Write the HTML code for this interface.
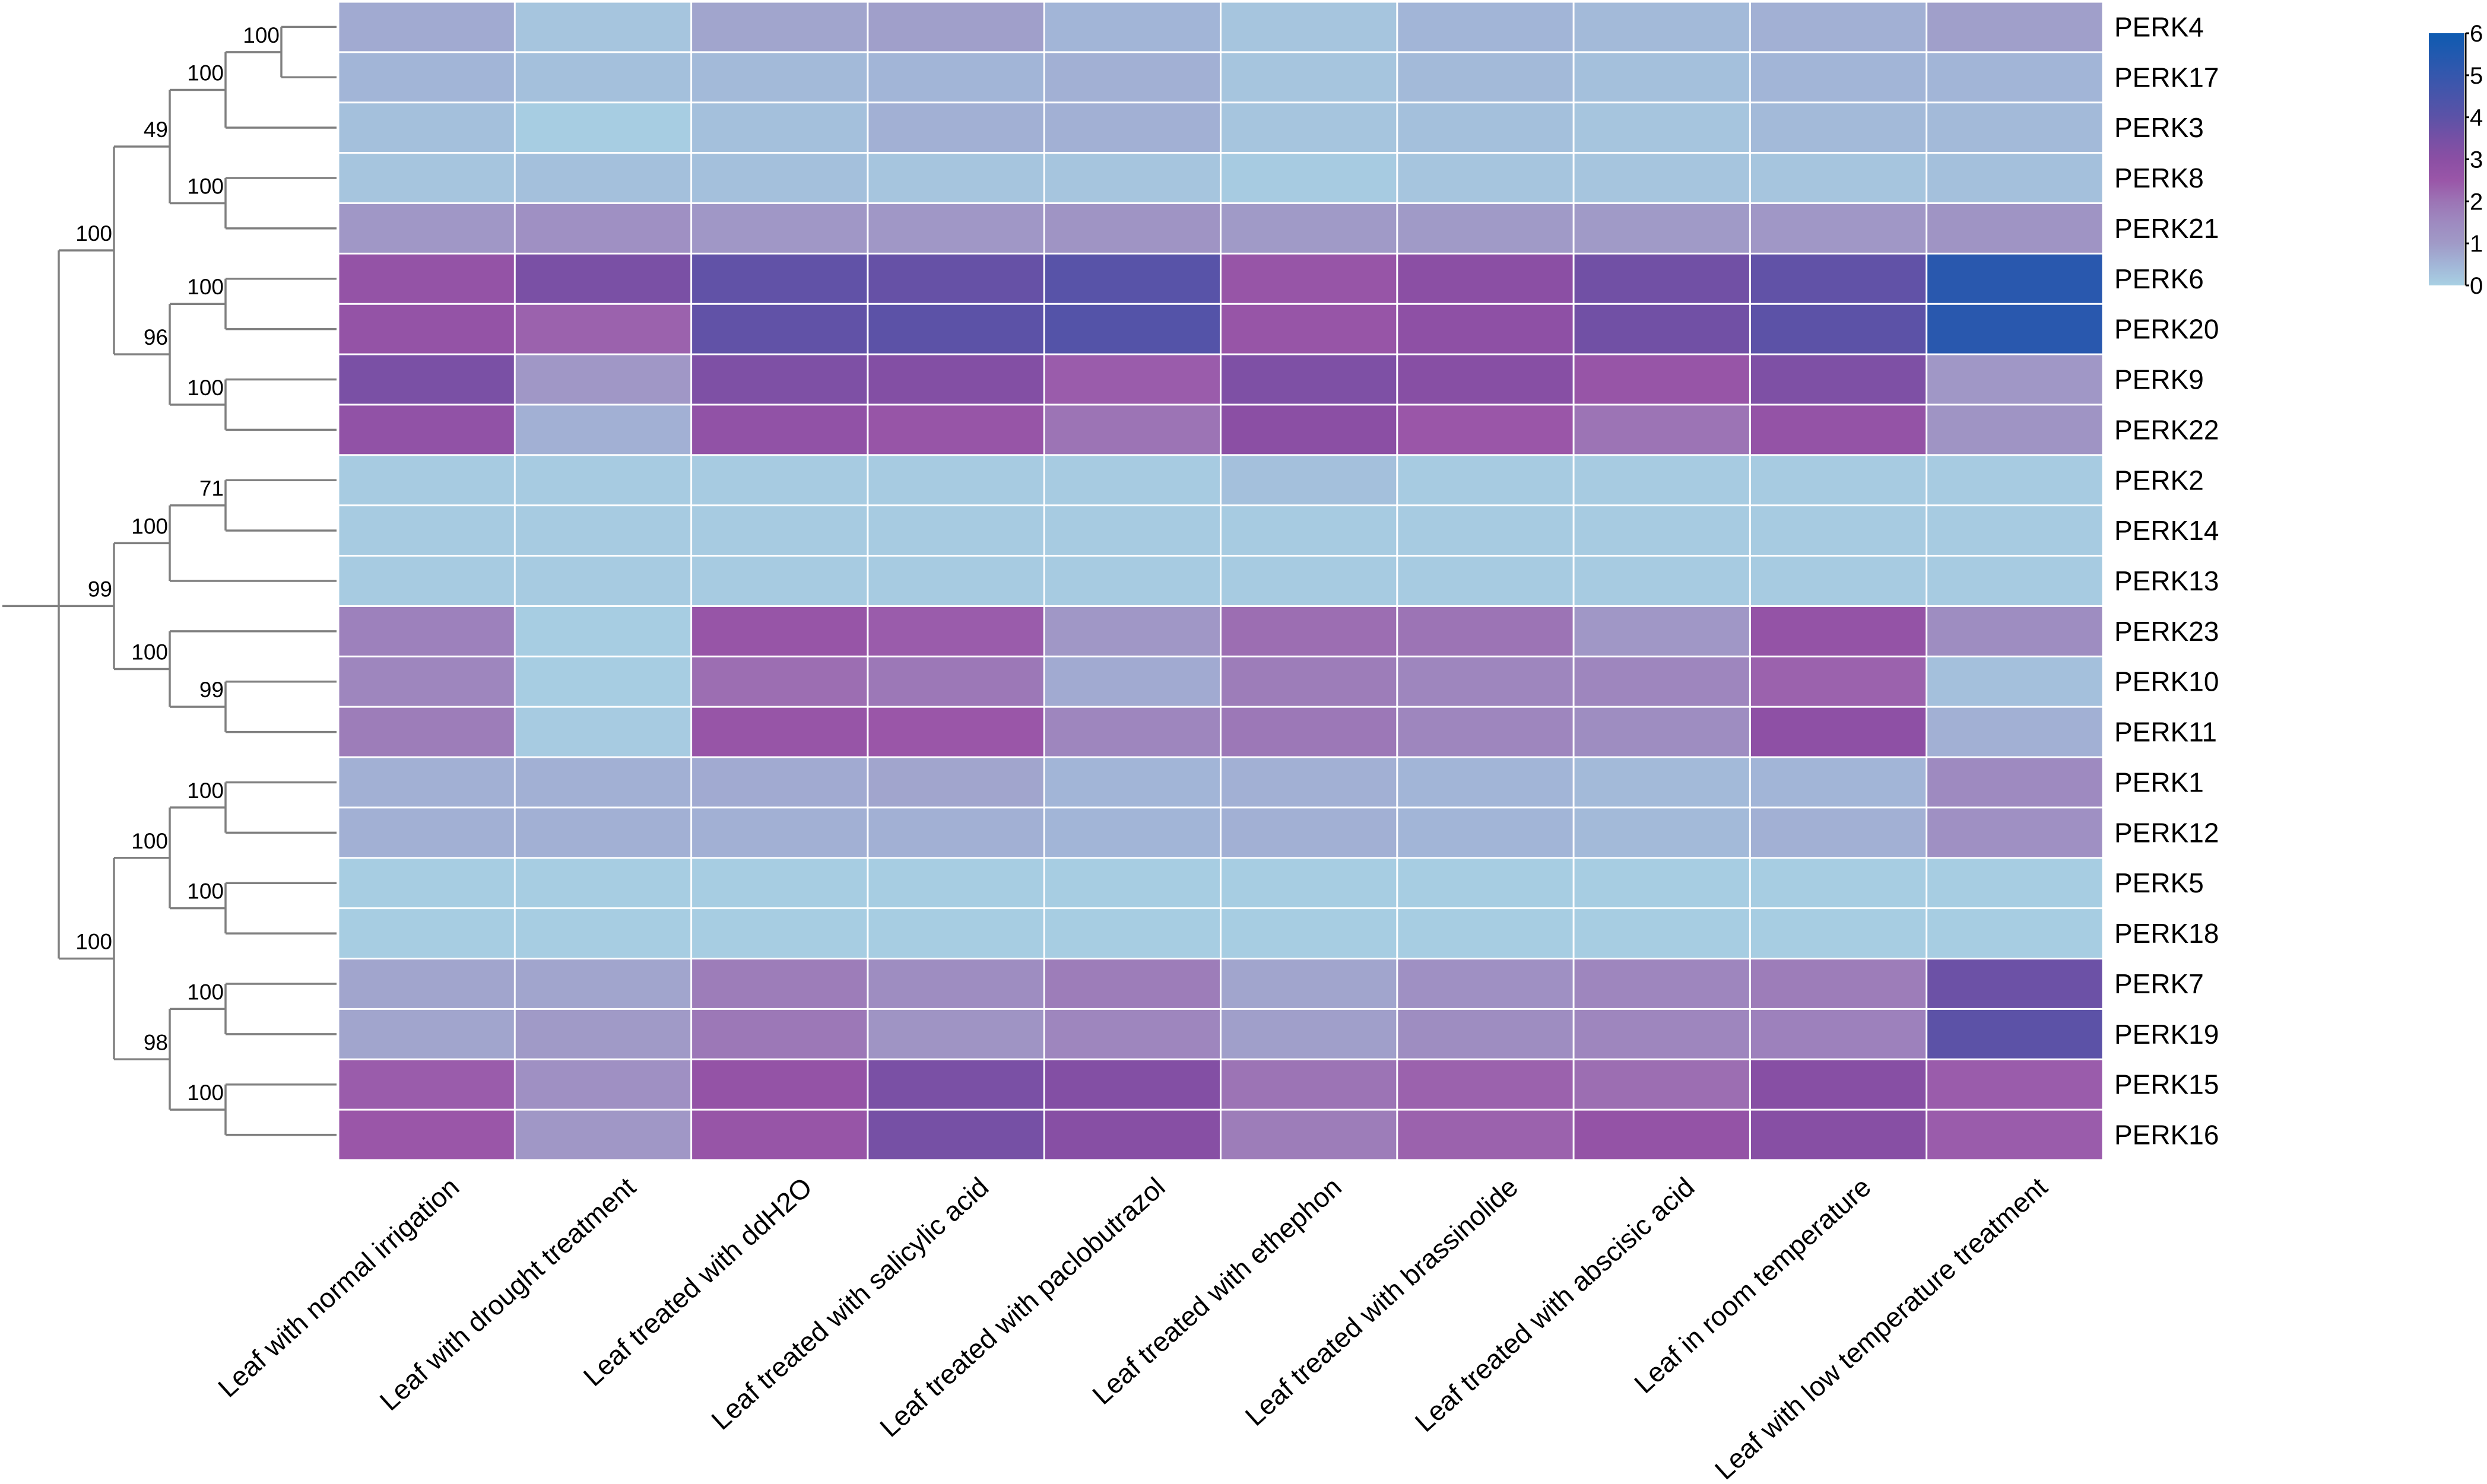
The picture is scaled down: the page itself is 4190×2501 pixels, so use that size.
<!DOCTYPE html>
<html><head><meta charset="utf-8"><style>
html,body{margin:0;padding:0;background:#fff;}
svg{display:block;font-family:"Liberation Sans",Arial,sans-serif;}
</style></head><body>
<svg id="chart" width="4190" height="2501" viewBox="0 0 4190 2501" xmlns="http://www.w3.org/2000/svg">
<g id="dendro"></g>
<g id="cells"></g>
<g id="rowlabels"></g>
<g id="collabels"></g>
<g id="legend"></g>
</svg>
<script>
const genes = ["PERK4","PERK17","PERK3","PERK8","PERK21","PERK6","PERK20","PERK9","PERK22","PERK2","PERK14","PERK13","PERK23","PERK10","PERK11","PERK1","PERK12","PERK5","PERK18","PERK7","PERK19","PERK15","PERK16"];
const conditions = ["Leaf with normal irrigation","Leaf with drought treatment","Leaf treated with ddH2O","Leaf treated with salicylic acid","Leaf treated with paclobutrazol","Leaf treated with ethephon","Leaf treated with brassinolide","Leaf treated with abscisic acid","Leaf in room temperature","Leaf with low temperature treatment"];
const values = [
[0.7,0.2,0.8,0.9,0.5,0.2,0.5,0.4,0.6,0.9],
[0.5,0.3,0.4,0.5,0.6,0.2,0.4,0.3,0.5,0.5],
[0.3,0.05,0.3,0.6,0.6,0.2,0.3,0.2,0.4,0.4],
[0.2,0.3,0.3,0.2,0.2,0.1,0.2,0.2,0.2,0.3],
[1.1,1.3,1.1,1.1,1.2,1.0,1.0,1.0,1.1,1.2],
[2.7,3.4,3.9,3.8,4.1,2.6,3.0,3.6,3.9,5.3],
[2.7,2.3,3.9,4.0,4.2,2.6,2.9,3.6,4.0,5.3],
[3.4,1.1,3.3,3.2,2.4,3.3,3.1,2.6,3.3,1.1],
[2.8,0.6,2.8,2.6,2.0,3.0,2.5,2.0,2.7,1.2],
[0.1,0.1,0.1,0.1,0.1,0.3,0.1,0.1,0.1,0.1],
[0.1,0.1,0.1,0.1,0.1,0.1,0.1,0.1,0.1,0.1],
[0.1,0.1,0.1,0.1,0.1,0.1,0.1,0.1,0.1,0.1],
[1.7,0.05,2.6,2.4,1.1,2.1,2.0,1.1,2.7,1.4],
[1.6,0.05,2.1,1.9,0.7,1.8,1.6,1.6,2.3,0.3],
[1.8,0.1,2.6,2.5,1.6,1.9,1.6,1.4,2.9,0.6],
[0.6,0.6,0.7,0.8,0.5,0.6,0.5,0.4,0.5,1.5],
[0.6,0.6,0.6,0.6,0.5,0.6,0.5,0.4,0.6,1.3],
[0.05,0.05,0.05,0.05,0.05,0.05,0.05,0.05,0.05,0.05],
[0.05,0.05,0.05,0.05,0.05,0.05,0.05,0.05,0.05,0.05],
[0.8,0.8,1.8,1.4,1.8,0.8,1.3,1.6,1.8,3.7],
[0.8,1.0,1.9,1.2,1.6,0.9,1.4,1.6,1.7,4.0],
[2.4,1.3,2.7,3.4,3.2,2.0,2.3,2.1,3.1,2.4],
[2.5,1.1,2.6,3.5,3.1,1.8,2.3,2.7,3.1,2.4]
];
const legendTicks = [0,1,2,3,4,5,6];
const tree = {s:"", c:[
  {s:"100", c:[
    {s:"49", c:[{s:"100", c:[{s:"100", c:[0,1]}, 2]}, {s:"100", c:[3,4]}]},
    {s:"96", c:[{s:"100", c:[5,6]}, {s:"100", c:[7,8]}]}
  ]},
  {s:"99", c:[
    {s:"100", c:[{s:"71", c:[9,10]}, 11]},
    {s:"100", c:[12, {s:"99", c:[13,14]}]}
  ]},
  {s:"100", c:[
    {s:"100", c:[{s:"100", c:[15,16]}, {s:"100", c:[17,18]}]},
    {s:"98", c:[{s:"100", c:[19,20]}, {s:"100", c:[21,22]}]}
  ]}
]};

const NS="http://www.w3.org/2000/svg";
const X0=570, X1=3543, Y0=3, Y1=1955;
const cw=(X1-X0)/conditions.length, rh=(Y1-Y0)/genes.length;
const xCol=i=>X0+i*cw, yRow=i=>Y0+i*rh;
const stops=[[0,"#a8d0e3"],[0.5,"#a2b5d7"],[1,"#a09ac7"],[1.5,"#9e8ac0"],[2,"#9c74b5"],[2.5,"#9a56a8"],[3,"#8b4fa4"],[3.5,"#7650a5"],[4,"#5c52a7"],[5,"#3557ad"],[6,"#0e5bb1"]];
function hex(h){return [1,3,5].map(i=>parseInt(h.substr(i,2),16));}
function color(v){
  v=Math.max(0,Math.min(6,v));
  for(let i=0;i<stops.length-1;i++){
    const a=stops[i],b=stops[i+1];
    if(v<=b[0]){const t=(v-a[0])/(b[0]-a[0]);const A=hex(a[1]),B=hex(b[1]);
      return "rgb("+A.map((x,k)=>Math.round(x+(B[k]-x)*t)).join(",")+")";}
  }
  return stops[stops.length-1][1];
}
function mk(tag,attrs,parent){const e=document.createElementNS(NS,tag);for(const k in attrs)e.setAttribute(k,attrs[k]);parent.appendChild(e);return e;}

const cells=document.getElementById("cells");
values.forEach((row,r)=>row.forEach((v,c)=>{
  const e=mk("rect",{x:xCol(c)+1.5,y:yRow(r)+1.5,width:cw-3,height:rh-3,fill:color(v)},cells);
  
  
}));

const rl=document.getElementById("rowlabels");
genes.forEach((g,r)=>{
  const t=mk("text",{x:3562,y:yRow(r)+rh/2+16,"font-size":46,fill:"#000"},rl);
  t.textContent=g;
  
  
});

const cl=document.getElementById("collabels");
conditions.forEach((c,i)=>{
  const ax=xCol(i)+cw/2+58, ay=2005;
  const t=mk("text",{x:ax,y:ay,"font-size":46,fill:"#000","text-anchor":"end",transform:`rotate(-42 ${ax} ${ay})`},cl);
  t.textContent=c;
  
  
});

const dg=document.getElementById("dendro");
const levelX=[99,192,286,380,474], leafX=567;
const LS={stroke:"#808080","stroke-width":3.5,fill:"none"};
function line(x1,y1,x2,y2){const e=mk("line",Object.assign({x1,y1,x2,y2},LS),dg);
  
  }
function layout(n,d){
  if(typeof n==="number") return {y:yRow(n)+rh/2,x:leafX};
  const x=levelX[d];
  const ch=n.c.map(c=>layout(c,d+1));
  ch.forEach(k=>line(x,k.y,k.x,k.y));
  const ys=ch.map(k=>k.y);
  line(x,Math.min(...ys),x,Math.max(...ys));
  const y = ch.length===3 ? ch[1].y : (ys[0]+ys[1])/2;
  if(n.s){
    const t=mk("text",{x:x-3,y:y-16,"font-size":37,fill:"#000","text-anchor":"end"},dg);
    t.textContent=n.s;
    
    
  }
  return {x,y};
}
const root=layout(tree,0);
line(4,root.y,root.x,root.y);

const lg=document.getElementById("legend");
const LX=4092,LW=59,LT=56,LB=481;
const defs=mk("defs",{},lg);
const grad=mk("linearGradient",{id:"cbar",x1:0,y1:1,x2:0,y2:0},defs);
stops.forEach(s=>mk("stop",{offset:(s[0]/6),"stop-color":s[1]},grad));
const bar=mk("rect",{x:LX,y:LT,width:LW,height:LB-LT,fill:"url(#cbar)"},lg);


const ly=v=>LB-(v/6)*(LB-LT);
mk("line",{x1:LX+LW+3,y1:LT,x2:LX+LW+3,y2:LB,stroke:"#000","stroke-width":3},lg);
legendTicks.forEach(v=>{
  mk("line",{x1:LX+LW+3,y1:ly(v),x2:LX+LW+9,y2:ly(v),stroke:"#000","stroke-width":3},lg);
  const t=mk("text",{x:LX+LW+10,y:ly(v)+14,"font-size":40,fill:"#000"},lg);
  t.textContent=v;
  
  
});
</script>
</body></html>
